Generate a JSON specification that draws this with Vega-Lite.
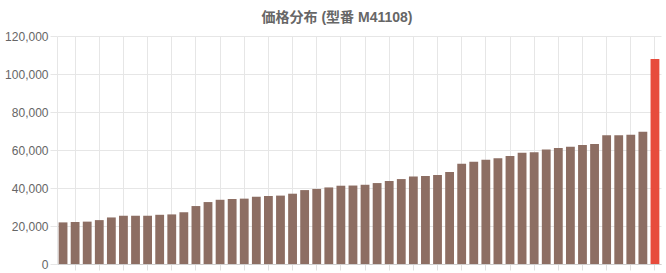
{
  "$schema": "https://vega.github.io/schema/vega-lite/v6.json",
  "autosize": {"type": "none"},
  "width": 604,
  "height": 228,
  "padding": {"left": 57, "top": 36, "right": 5, "bottom": 9},
  "background": "white",
  "title": {
    "text": "価格分布 (型番 M41108)",
    "fontSize": 14,
    "fontWeight": "bold",
    "color": "#666666",
    "font": "Liberation Sans, Noto Sans CJK JP",
    "anchor": "middle",
    "dx": -22,
    "offset": 5
  },
  "config": {
    "view": {"stroke": null},
    "axis": {"labelFont": "Liberation Sans", "labelColor": "#666666", "labelFontSize": 12}
  },
  "data": {
    "values": [
      {"id": 1, "price": 21900, "type": "other"},
      {"id": 2, "price": 22100, "type": "other"},
      {"id": 3, "price": 22300, "type": "other"},
      {"id": 4, "price": 23100, "type": "other"},
      {"id": 5, "price": 24500, "type": "other"},
      {"id": 6, "price": 25400, "type": "other"},
      {"id": 7, "price": 25400, "type": "other"},
      {"id": 8, "price": 25400, "type": "other"},
      {"id": 9, "price": 25900, "type": "other"},
      {"id": 10, "price": 26100, "type": "other"},
      {"id": 11, "price": 27200, "type": "other"},
      {"id": 12, "price": 30500, "type": "other"},
      {"id": 13, "price": 32600, "type": "other"},
      {"id": 14, "price": 33800, "type": "other"},
      {"id": 15, "price": 34200, "type": "other"},
      {"id": 16, "price": 34400, "type": "other"},
      {"id": 17, "price": 35400, "type": "other"},
      {"id": 18, "price": 35800, "type": "other"},
      {"id": 19, "price": 36000, "type": "other"},
      {"id": 20, "price": 37000, "type": "other"},
      {"id": 21, "price": 38900, "type": "other"},
      {"id": 22, "price": 39500, "type": "other"},
      {"id": 23, "price": 40300, "type": "other"},
      {"id": 24, "price": 41200, "type": "other"},
      {"id": 25, "price": 41300, "type": "other"},
      {"id": 26, "price": 41700, "type": "other"},
      {"id": 27, "price": 42600, "type": "other"},
      {"id": 28, "price": 43700, "type": "other"},
      {"id": 29, "price": 44700, "type": "other"},
      {"id": 30, "price": 46000, "type": "other"},
      {"id": 31, "price": 46300, "type": "other"},
      {"id": 32, "price": 46800, "type": "other"},
      {"id": 33, "price": 48400, "type": "other"},
      {"id": 34, "price": 52800, "type": "other"},
      {"id": 35, "price": 53800, "type": "other"},
      {"id": 36, "price": 54900, "type": "other"},
      {"id": 37, "price": 55600, "type": "other"},
      {"id": 38, "price": 56800, "type": "other"},
      {"id": 39, "price": 58600, "type": "other"},
      {"id": 40, "price": 58800, "type": "other"},
      {"id": 41, "price": 60200, "type": "other"},
      {"id": 42, "price": 61000, "type": "other"},
      {"id": 43, "price": 61700, "type": "other"},
      {"id": 44, "price": 62600, "type": "other"},
      {"id": 45, "price": 63200, "type": "other"},
      {"id": 46, "price": 67700, "type": "other"},
      {"id": 47, "price": 67700, "type": "other"},
      {"id": 48, "price": 68000, "type": "other"},
      {"id": 49, "price": 69600, "type": "other"},
      {"id": 50, "price": 107900, "type": "target"}
    ]
  },
  "mark": {"type": "bar"},
  "encoding": {
    "x": {
      "field": "id",
      "type": "ordinal",
      "scale": {"paddingInner": 0.27, "paddingOuter": 0.135},
      "axis": {
        "title": null,
        "labels": false,
        "values": [2,4,6,8,10,12,14,16,18,20,22,24,26,28,30,32,34,36,38,40,42,44,46,48,50],
        "bandPosition": 0.5,
        "grid": true,
        "gridColor": "#e6e6e6",
        "ticks": true,
        "tickSize": 6,
        "tickColor": "#e0e0e0",
        "domainColor": "#cfcfcf",
        "zindex": 0
      }
    },
    "y": {
      "field": "price",
      "type": "quantitative",
      "scale": {"domain": [0, 120000], "nice": false},
      "axis": {
        "title": null,
        "values": [0, 20000, 40000, 60000, 80000, 100000, 120000],
        "format": ",.0f",
        "grid": true,
        "gridColor": "#e6e6e6",
        "tickColor": "#e6e6e6",
        "tickSize": 7,
        "labelPadding": 2,
        "domainColor": "#e6e6e6",
        "zindex": 0
      }
    },
    "color": {
      "field": "type",
      "type": "nominal",
      "scale": {"domain": ["other", "target"], "range": ["#8d6e63", "#e74c3c"]},
      "legend": null
    }
  }
}
